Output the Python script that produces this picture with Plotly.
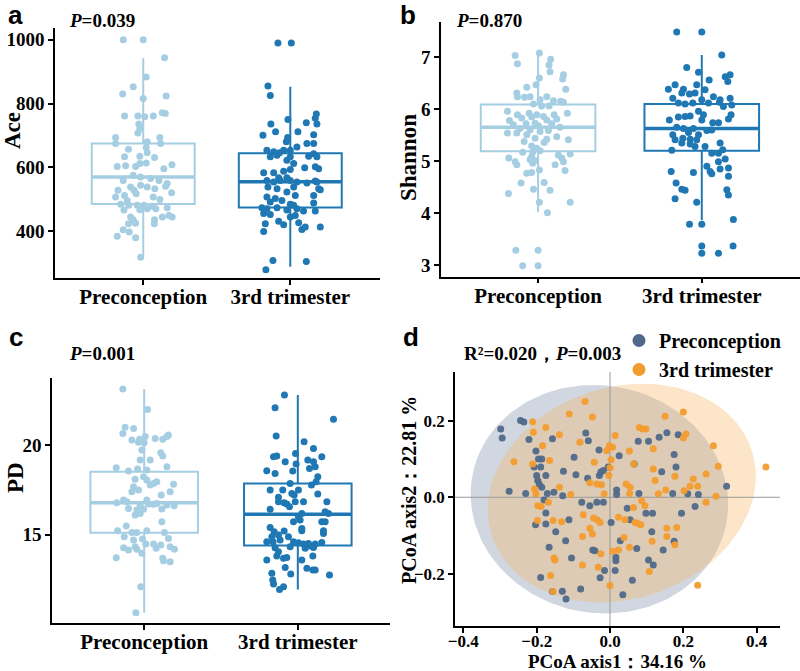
import numpy as np
import plotly.graph_objects as go
from plotly.subplots import make_subplots

# ---------------------------------------------------------------
# data
# ---------------------------------------------------------------
groups = ["Preconception", "3rd trimester"]

# box statistics (q1, median, q3, whisker ends) per group
ace_q1 = [485, 474]
ace_med = [570, 555]
ace_q3 = [675, 644]
ace_lo = [319, 288]
ace_hi = [942, 853]

shannon_q1 = [5.19, 5.20]
shannon_med = [5.65, 5.63]
shannon_q3 = [6.09, 6.10]
shannon_lo = [4.02, 3.87]
shannon_hi = [7.06, 7.04]

pd_q1 = [15.11, 14.40]
pd_med = [16.79, 16.14]
pd_q3 = [18.53, 17.87]
pd_lo = [10.63, 11.94]
pd_hi = [23.15, 22.82]

# sample values
ace_pre = [1000, 1000, 944, 883, 853, 830, 824, 816, 761, 761,
           759, 761, 771, 769, 736, 722, 708, 694, 675, 694,
           675, 680, 657, 662, 633, 635, 646, 631, 603, 605,
           603, 612, 614, 596, 608, 559, 575, 570, 565, 559,
           549, 538, 544, 538, 533, 541, 528, 528, 512, 507,
           517, 520, 496, 507, 499, 484, 481, 481, 481, 478,
           470, 473, 466, 467, 470, 449, 444, 444, 436, 436,
           444, 425, 423, 423, 404, 397, 384, 379, 318]
ace_3rd = [990, 990, 855, 825, 750, 736, 740, 754, 736, 767,
           701, 712, 712, 702, 694, 680, 675, 675, 654, 649,
           646, 654, 654, 664, 633, 638, 633, 635, 643, 633,
           612, 622, 599, 602, 596, 583, 583, 588, 593, 567,
           567, 559, 554, 559, 559, 554, 551, 557, 530, 538,
           533, 538, 533, 554, 523, 507, 502, 496, 512, 512,
           491, 484, 481, 488, 473, 470, 473, 466, 470, 463,
           463, 455, 452, 431, 420, 444, 449, 426, 405, 413,
           413, 423, 399, 308, 305, 279]

shannon_pre = [7.03, 7.08, 6.87, 6.96, 6.85, 6.72, 6.66, 6.58, 6.60, 6.47,
               6.42, 6.38, 6.31, 6.24, 6.23, 6.24, 6.24, 6.18, 6.16, 6.15,
               6.13, 6.10, 6.06, 6.06, 5.96, 5.89, 5.92, 5.89, 5.89, 5.92,
               5.78, 5.83, 5.85, 5.86, 5.79, 5.81, 5.70, 5.72, 5.73, 5.68,
               5.72, 5.65, 5.63, 5.60, 5.57, 5.59, 5.54, 5.54, 5.51, 5.47,
               5.44, 5.42, 5.41, 5.38, 5.36, 5.29, 5.25, 5.20, 5.17, 5.17,
               5.14, 5.12, 5.09, 5.06, 5.06, 5.03, 5.01, 4.99, 4.99, 4.93,
               4.93, 4.96, 4.83, 4.82, 4.77, 4.78, 4.58, 4.59, 4.46, 4.44,
               4.38, 4.21, 4.21, 4.01, 3.29, 3.29, 2.99, 2.99]
shannon_3rd = [7.48, 7.48, 7.04, 6.80, 6.71, 6.56, 6.66, 6.62, 6.53, 6.47,
               6.38, 6.38, 6.47, 6.37, 6.31, 6.29, 6.31, 6.21, 6.24, 6.21,
               6.18, 6.12, 6.10, 6.12, 6.18, 6.12, 6.08, 6.05, 6.13, 5.96,
               5.87, 5.86, 5.85, 5.89, 5.89, 5.81, 5.79, 5.79, 5.74, 5.74,
               5.63, 5.65, 5.63, 5.59, 5.60, 5.55, 5.51, 5.51, 5.44, 5.41,
               5.42, 5.41, 5.35, 5.33, 5.35, 5.28, 5.28, 5.21, 5.15, 5.15,
               5.22, 5.04, 4.99, 4.90, 4.80, 4.87, 4.85, 4.78, 4.80, 4.76,
               4.71, 4.58, 4.46, 4.44, 4.45, 4.35, 4.28, 4.21, 3.79, 3.79,
               3.88, 3.37, 3.23, 3.23, 3.37]

pd_pre = [23.15, 22.01, 21.01, 20.95, 20.67, 20.49, 20.39, 20.49, 20.58, 20.34,
          20.30, 20.34, 20.17, 20.15, 19.74, 19.59, 19.40, 19.18, 19.18, 18.81,
          18.75, 18.56, 18.68, 18.62, 18.25, 18.06, 17.87, 17.97, 17.78, 17.82,
          18.10, 17.69, 17.50, 17.41, 17.41, 17.22, 16.94, 16.85, 16.94, 16.79,
          16.66, 16.72, 16.70, 16.75, 16.66, 16.62, 16.47, 16.38, 16.42, 16.44,
          16.19, 16.10, 15.73, 15.49, 15.22, 15.13, 15.13, 15.22, 15.13, 14.89,
          14.70, 14.76, 14.79, 14.48, 14.48, 14.42, 14.33, 14.27, 14.33, 14.24,
          14.14, 14.18, 13.96, 14.18, 13.71, 13.68, 13.49, 13.54, 12.09, 10.63]
pd_3rd = [22.82, 22.11, 21.46, 20.52, 20.20, 19.83, 19.37, 19.37, 19.40, 19.55,
          19.09, 18.96, 19.18, 19.09, 18.81, 18.58, 18.43, 18.56, 18.71, 18.25,
          17.97, 17.87, 17.78, 17.50, 17.50, 17.50, 17.28, 17.31, 17.22, 17.09,
          16.85, 16.79, 16.72, 16.85, 16.85, 16.57, 16.85, 16.42, 16.19, 16.01,
          15.82, 16.19, 16.29, 15.73, 15.73, 15.41, 15.73, 15.17, 15.21, 15.35,
          15.22, 14.98, 14.89, 14.89, 14.70, 14.61, 14.61, 14.55, 14.48, 14.51,
          14.48, 14.57, 15.07, 15.22, 14.61, 14.33, 14.24, 14.29, 14.37, 14.27,
          14.05, 13.81, 13.68, 13.73, 13.58, 13.81, 13.58, 13.12, 13.02, 13.02,
          12.74, 13.17, 12.80, 12.46, 12.84, 12.24, 11.94, 12.09]

# horizontal jitter of each dot
ace_pre_jit = [-0.136, 0, 0.145, 0.02, -0.068, -0.14, 0.156, 0, -0.127, -0.036,
               0.01, 0.068, 0.13, 0.15, -0.03, -0.023, -0.036, -0.188, -0.188, 0.113,
               0.118, 0.027, -0.1, 0.02, -0.127, -0.023, 0.027, 0.077, -0.177, -0.12,
               -0.052, -0.023, 0.02, 0.14, 0.195, -0.136, -0.068, -0.018, 0.05, 0.107,
               0.163, -0.086, -0.018, 0.027, 0.079, 0.152, -0.172, -0.063, -0.127, -0.188,
               -0.048, 0.193, -0.109, 0.068, 0.113, -0.154, -0.098, -0.041, 0.005, 0.061,
               0.086, 0.163, -0.131, -0.023, 0.027, 0.175, 0.197, -0.086, -0.068, 0.077,
               0.13, -0.052, 0.075, -0.1, -0.136, -0.095, -0.177, -0.052, -0.018]
ace_3rd_jit = [-0.084, 0.007, -0.152, -0.136, -0.016, -0.132, 0.109, 0.17, 0.181, 0.177,
               -0.186, -0.1, 0.052, 0.159, -0.018, -0.027, 0.113, 0.159, -0.159, -0.113,
               -0.073, -0.045, 0, 0.045, -0.136, -0.09, 0, 0.125, 0.159, 0.181,
               0.023, -0.023, 0.098, 0.17, 0.193, -0.181, -0.113, -0.045, 0, -0.079,
               -0.023, -0.159, -0.113, -0.068, 0, 0.045, 0.113, 0.17, 0.204, -0.152,
               -0.09, 0.023, 0.193, 0.181, -0.023, -0.159, -0.102, -0.057, 0.034, 0.159,
               -0.136, 0, 0.023, 0.159, -0.193, -0.159, -0.09, -0.023, 0.045, 0.09,
               0.17, -0.181, -0.136, -0.079, -0.045, 0, 0.034, 0.057, 0.079, 0.102,
               0.204, -0.17, -0.181, -0.118, 0.109, -0.166]
shannon_pre_jit = [-0.14, 0.008, -0.126, 0.077, 0.067, 0.073, 0.155, 0.15, 0.008, -0.012,
                   -0.069, 0.169, -0.13, -0.126, -0.083, -0.049, 0.053, 0.012, 0.094, 0.138,
                   0.155, -0.028, 0.022, 0.067, -0.187, -0.126, -0.055, -0.008, 0.098, 0.179,
                   -0.175, -0.1, -0.039, 0.033, 0.053, 0.114, -0.151, -0.073, -0.018, 0.002,
                   0.083, 0.134, -0.11, -0.049, 0.012, 0.063, -0.187, -0.13, -0.069, 0.114,
                   -0.018, 0.053, 0.185, -0.085, 0.037, -0.039, -0.008, 0.012, -0.033, -0.094,
                   0.196, 0.124, -0.039, -0.179, 0.145, -0.049, -0.018, -0.14, 0.155, -0.13,
                   0.104, -0.033, 0.008, 0.165, -0.069, -0.039, -0.104, 0.037, -0.028, 0.073,
                   -0.181, 0.008, 0.196, 0.057, -0.136, 0, -0.094, 0]
shannon_3rd_jit = [-0.153, 0, 0.122, -0.092, -0.02, 0.045, 0.173, 0.143, 0.159, -0.163,
                   -0.204, -0.112, -0.031, 0.02, -0.122, -0.075, -0.041, -0.177, 0.071, 0.173,
                   0.112, -0.143, -0.102, -0.055, 0, 0.041, 0.183, 0.132, 0.108, -0.02,
                   -0.071, -0.102, -0.143, 0.01, 0.179, 0.163, -0.198, 0, 0.067, 0.102,
                   -0.112, -0.153, -0.051, 0.031, 0.061, -0.081, -0.177, -0.02, -0.116, -0.163,
                   -0.071, -0.031, -0.122, -0.071, 0.112, 0.02, -0.041, -0.183, 0.061, 0.102,
                   0.128, 0.143, 0.102, 0.031, 0.051, 0.163, 0.112, -0.051, -0.187, 0.061,
                   0.163, -0.157, -0.122, -0.102, 0.153, 0.163, -0.163, -0.031, -0.075, 0,
                   0.193, 0, 0, 0.102, 0.191]
pd_pre_jit = [-0.139, 0.022, -0.124, -0.069, -0.139, 0.007, 0.072, 0.148, 0.158, 0.121,
              -0.08, -0.03, -0.037, 0, -0.015, 0.108, 0.121, -0.026, 0.039, 0.148,
              -0.182, -0.102, -0.043, 0.017, -0.004, 0.017, 0.061, 0.082, 0.039, 0.191,
              -0.059, -0.069, -0.037, -0.08, 0.169, 0.111, -0.134, -0.113, 0.017, -0.178,
              -0.026, 0.028, 0.061, 0.082, 0.148, 0.195, -0.102, -0.048, -0.004, 0.115,
              -0.026, -0.059, 0.115, -0.117, -0.173, -0.08, -0.048, 0.017, 0.132, -0.13,
              -0.069, -0.011, 0.158, 0.011, 0.061, 0.108, 0.169, -0.134, -0.059, 0.078,
              -0.102, -0.048, -0.015, 0.197, -0.182, 0.121, 0.169, 0.126, -0.022, -0.054]
pd_3rd_jit = [-0.087, -0.148, 0.232, -0.141, 0.041, 0.102, 0.156, -0.158, -0.137, -0.015,
              -0.082, -0.011, 0.065, 0.102, 0.113, -0.202, -0.148, -0.033, 0.076, 0.13,
              0.119, -0.05, 0.089, -0.18, -0.098, 0.004, 0.13, -0.039, -0.024, -0.126,
              -0.126, -0.089, -0.072, -0.017, 0.037, -0.054, 0.189, -0.18, 0.026, 0.004,
              0.015, 0.2, 0.178, 0.156, 0.178, -0.18, -0.028, -0.154, -0.089, 0.026,
              0.026, -0.126, -0.169, -0.061, -0.115, -0.161, -0.028, 0.004, 0.037, 0.069,
              0.113, 0.156, 0.167, 0.167, -0.202, -0.05, 0.048, 0.102, 0.082, -0.148,
              -0.126, -0.137, -0.093, -0.072, -0.202, 0.098, 0.026, 0.059, 0.098, 0.113,
              0.206, -0.082, -0.046, -0.163, -0.169, -0.158, -0.119, -0.093]

# PCoA scores
pre_pc1 = [-0.298, -0.294, -0.244, -0.235, -0.221, -0.202, -0.195, -0.186, -0.207, -0.189,
           -0.2, -0.175, -0.197, -0.193, -0.186, -0.275, -0.23, -0.171, -0.153, -0.129,
           -0.157, -0.127, -0.098, -0.093, -0.18, -0.175, -0.203, -0.175, -0.148, -0.112,
           -0.121, -0.166, -0.189, -0.157, -0.13, -0.12, -0.08, -0.105, -0.047, -0.041,
           -0.077, -0.061, -0.066, -0.059, -0.03, -0.029, -0.025, -0.018, -0.005, -0.036,
           -0.018, 0.018, 0.018, 0.003, -0.055, -0.015, -0.027, 0.014, 0.016, 0.016,
           0.035, 0.028, 0.025, 0.066, 0.077, 0.105, 0.134, 0.155, 0.186, 0.175,
           0.18, 0.141, 0.079, 0.047, 0.055, 0.098, 0.116, 0.114, 0.073, 0.105,
           0.118, 0.061, 0.145, 0.175, 0.195, 0.171, 0.212, 0.241, 0.232, 0.318]
pre_pc2 = [0.179, 0.155, 0.201, 0.197, 0.151, 0.121, 0.1, 0.1, 0.079, 0.079,
           0.057, 0.057, 0.044, 0.035, 0.026, 0.016, 0.01, 0.01, 0.013, 0.004,
           0.153, 0.068, 0.105, 0.059, -0.007, -0.041, -0.072, -0.07, -0.09, -0.059,
           -0.114, -0.131, -0.21, -0.247, -0.246, -0.266, -0.24, -0.159, -0.138, -0.14,
           -0.013, 0.05, 0.168, 0.148, 0.124, 0.057, 0.066, 0.07, 0.079, -0.013,
           -0.013, 0.019, 0.007, -0.066, -0.022, -0.192, -0.211, -0.192, -0.166, -0.157,
           -0.255, -0.114, 0.109, 0.087, 0.147, 0.147, 0.157, 0.169, 0.164, 0.112,
           0.079, 0.067, 0.01, -0.029, -0.059, -0.042, -0.042, -0.09, -0.134, -0.164,
           -0.177, -0.217, -0.138, -0.115, -0.042, 0.01, 0.009, 0.007, -0.024, 0.029]
tri_pc1 = [-0.068, -0.111, -0.048, -0.211, -0.175, -0.209, -0.138, -0.184, -0.082, 0.014,
           -0.002, 0.007, -0.009, -0.043, -0.262, -0.211, -0.165, -0.206, -0.202, -0.138,
           -0.107, -0.055, -0.036, -0.023, -0.003, -0.016, 0, 0.003, 0.053, -0.197,
           -0.188, -0.168, -0.198, -0.155, -0.132, -0.073, -0.045, -0.035, -0.027, -0.055,
           -0.048, -0.075, 0.023, 0.041, 0.068, 0.075, 0.084, 0.038, 0.053, 0.023,
           0.007, -0.025, -0.153, -0.15, -0.075, -0.032, 0, -0.162, -0.156, 0.065,
           0.044, 0.055, 0.053, 0.086, 0.08, 0.089, 0.098, 0.118, 0.118, 0.177,
           0.2, 0.15, 0.2, 0.207, 0.132, 0.152, 0.218, 0.227, 0.239, 0.202,
           0.262, 0.282, 0.295, 0.289, 0.262, 0.155, 0.155, 0.182, 0.177, 0.115,
           0.107, 0.239, 0.425, 0.123, 0.095, 0.064]
tri_pc2 = [0.251, 0.218, 0.21, 0.198, 0.183, 0.17, 0.164, 0.135, 0.144, 0.162,
           0.135, 0.131, 0.122, 0.092, 0.093, 0.087, 0.096, 0.022, 0.009, 0.026,
           0.007, 0.038, 0.035, 0.033, 0.057, 0.009, 0.077, 0.098, 0.121, -0.022,
           -0.024, -0.013, -0.061, -0.061, -0.064, -0.046, -0.054, -0.059, -0.066, -0.081,
           -0.096, -0.103, -0.052, -0.059, -0.066, -0.068, -0.072, -0.105, -0.131, -0.138,
           -0.141, -0.148, -0.159, -0.164, -0.177, -0.183, -0.231, -0.205, -0.247, 0.087,
           0.035, 0.026, 0.01, -0.009, 0.183, 0.179, 0.179, 0.127, 0.074, 0.055,
           0.223, 0.212, 0.155, 0.166, 0.009, 0.019, 0.029, 0.048, 0.029, 0.017,
           0.061, 0.135, 0.081, 0.003, -0.013, -0.081, -0.103, -0.079, -0.124, -0.115,
           -0.194, -0.23, 0.079, 0.044, -0.022, -0.027]

# confidence ellipses: centre, semi-axes, rotation (deg)
ell_pre = dict(cx=-0.029, cy=-0.005, a=0.352, b=0.298, ang=-8)
ell_tri = dict(cx=0.032, cy=0.011, a=0.372, b=0.278, ang=16)

# ---------------------------------------------------------------
LIGHT = "#A6CEE3"
DARK = "#1F78B4"
PC_BLUE = "#50698A"
PC_ORANGE = "#F39C2E"
SERIF = "Liberation Serif"
SANS = "Liberation Sans"
W, H = 800, 671
BOXW = 0.7


def px(v):
    return v / W


def py(v):
    return 1 - v / H


fig = make_subplots(rows=2, cols=2)


def box_panel(row, col, q1, med, q3, lo, hi, vals, jits):
    colors = [LIGHT, DARK]
    for i in range(2):
        fig.add_trace(go.Box(x=[i], q1=[q1[i]], median=[med[i]], q3=[q3[i]],
                             lowerfence=[lo[i]], upperfence=[hi[i]],
                             width=BOXW, whiskerwidth=0,
                             line=dict(color=colors[i], width=2),
                             fillcolor="rgba(0,0,0,0)", boxpoints=False,
                             hoverinfo="skip", showlegend=False),
                      row=row, col=col)
        fig.add_trace(go.Scatter(x=[i + j for j in jits[i]], y=vals[i], mode="markers",
                                 marker=dict(color=colors[i], size=7),
                                 hoverinfo="skip", showlegend=False),
                      row=row, col=col)
        fig.add_trace(go.Scatter(x=[i - BOXW / 2, i + BOXW / 2], y=[med[i], med[i]],
                                 mode="lines", line=dict(color=colors[i], width=3.5),
                                 hoverinfo="skip", showlegend=False),
                      row=row, col=col)


box_panel(1, 1, ace_q1, ace_med, ace_q3, ace_lo, ace_hi,
          [ace_pre, ace_3rd], [ace_pre_jit, ace_3rd_jit])
box_panel(1, 2, shannon_q1, shannon_med, shannon_q3, shannon_lo, shannon_hi,
          [shannon_pre, shannon_3rd], [shannon_pre_jit, shannon_3rd_jit])
box_panel(2, 1, pd_q1, pd_med, pd_q3, pd_lo, pd_hi,
          [pd_pre, pd_3rd], [pd_pre_jit, pd_3rd_jit])


def ellipse(e, n=200):
    t = np.linspace(0, 2 * np.pi, n)
    th = np.deg2rad(e["ang"])
    x = e["cx"] + e["a"] * np.cos(t) * np.cos(th) - e["b"] * np.sin(t) * np.sin(th)
    y = e["cy"] + e["a"] * np.cos(t) * np.sin(th) + e["b"] * np.sin(t) * np.cos(th)
    return x, y


d_xrange = [-0.4227, 0.4636]
d_yrange = [-0.337, 0.328]

ex, ey = ellipse(ell_pre)
fig.add_trace(go.Scatter(x=ex, y=ey, mode="lines", fill="toself", line=dict(width=0),
                         fillcolor="rgba(120,140,170,0.35)", hoverinfo="skip",
                         showlegend=False), row=2, col=2)
ex, ey = ellipse(ell_tri)
fig.add_trace(go.Scatter(x=ex, y=ey, mode="lines", fill="toself", line=dict(width=0),
                         fillcolor="rgba(245,180,100,0.35)", hoverinfo="skip",
                         showlegend=False), row=2, col=2)
# reference lines through the origin
fig.add_trace(go.Scatter(x=[0, 0], y=d_yrange, mode="lines",
                         line=dict(color="#9A9A9A", width=1), hoverinfo="skip",
                         showlegend=False), row=2, col=2)
fig.add_trace(go.Scatter(x=d_xrange, y=[0, 0], mode="lines",
                         line=dict(color="#9A9A9A", width=1), hoverinfo="skip",
                         showlegend=False), row=2, col=2)
fig.add_trace(go.Scatter(x=pre_pc1, y=pre_pc2, mode="markers",
                         marker=dict(color=PC_BLUE, size=7, opacity=0.95),
                         hoverinfo="skip", showlegend=False), row=2, col=2)
fig.add_trace(go.Scatter(x=tri_pc1, y=tri_pc2, mode="markers",
                         marker=dict(color=PC_ORANGE, size=7, opacity=0.95),
                         hoverinfo="skip", showlegend=False), row=2, col=2)
# legend keys
for name, c in zip(groups, [PC_BLUE, PC_ORANGE]):
    fig.add_trace(go.Scatter(x=[None], y=[None], mode="markers", name=name,
                             marker=dict(color=c, size=13)), row=2, col=2)

# ---------------------------------------------------------------
axis_common = dict(showline=True, linecolor="black", linewidth=1.5, ticks="outside",
                   ticklen=5, tickwidth=1.5, tickcolor="black", showgrid=False,
                   zeroline=False, fixedrange=True, automargin=False)
xaxis_common = dict(axis_common, ticklabelstandoff=-6)
cat_font = dict(family=SERIF, size=21, color="black", weight="bold")
num_font = dict(family=SERIF, size=19, color="black", weight="bold")
pc_font = dict(family=SERIF, size=17, color="black", weight="bold")

fig.update_layout(
    xaxis=dict(domain=[px(55), px(380)], range=[-0.6, 1.61], tickvals=[0, 1],
               ticktext=groups, tickfont=cat_font, **xaxis_common),
    yaxis=dict(domain=[py(278), py(28)], range=[253, 1037],
               tickvals=[400, 600, 800, 1000], tickfont=num_font, **axis_common),
    xaxis2=dict(domain=[px(441), px(800)], range=[-0.593, 1.6], tickvals=[0, 1],
                ticktext=groups, tickfont=cat_font, **xaxis_common),
    yaxis2=dict(domain=[py(276.7), py(21.7)], range=[2.78, 7.68],
                tickvals=[3, 4, 5, 6, 7], tickfont=num_font, **axis_common),
    xaxis3=dict(domain=[px(52), px(390)], range=[-0.6, 1.6], tickvals=[0, 1],
                ticktext=groups, tickfont=cat_font, **xaxis_common),
    yaxis3=dict(domain=[py(623), py(378)], range=[10.06, 23.77],
                tickvals=[15, 20], tickfont=num_font, **axis_common),
    xaxis4=dict(domain=[px(455), px(780)], range=d_xrange,
                tickvals=[-0.4, -0.2, 0, 0.2, 0.4], tickformat=".1f",
                tickfont=pc_font, **xaxis_common),
    yaxis4=dict(domain=[py(626), py(372)], range=d_yrange,
                tickvals=[-0.2, 0, 0.2], tickformat=".1f",
                tickfont=pc_font, **axis_common),
    width=W, height=H, margin=dict(l=0, r=0, t=0, b=0, autoexpand=False),
    plot_bgcolor="white", paper_bgcolor="white",
    legend=dict(x=px(619), y=py(321), xanchor="left", yanchor="top",
                bgcolor="rgba(0,0,0,0)", itemwidth=30, tracegroupgap=0,
                font=dict(family=SERIF, size=20, color="black", weight="bold")),
)

txt = dict(family=SERIF, color="black", weight="bold")
letter = dict(family=SANS, size=26, color="black", weight="bold")
notes = [
    # panel letters
    dict(x=px(15), y=py(15), text="a", font=letter),
    dict(x=px(408), y=py(15), text="b", font=letter),
    dict(x=px(16), y=py(337), text="c", font=letter),
    dict(x=px(411), y=py(337), text="d", font=letter),
    # statistics
    dict(x=px(67), y=py(21), text="<i>P</i>=0.039", xanchor="left", font=dict(size=19, **txt)),
    dict(x=px(454), y=py(21), text="<i>P</i>=0.870", xanchor="left", font=dict(size=19, **txt)),
    dict(x=px(67), y=py(353), text="<i>P</i>=0.001", xanchor="left", font=dict(size=19, **txt)),
    dict(x=px(462), y=py(353), text="R²=0.020，<i>P</i>=0.003", xanchor="left", font=dict(size=19, **txt)),
    # axis titles
    dict(x=px(12), y=py(131), text="Ace", textangle=-90, font=dict(size=23, **txt)),
    dict(x=px(408), y=py(158), text="Shannon", textangle=-90, font=dict(size=23, **txt)),
    dict(x=px(15), y=py(478), text="PD", textangle=-90, font=dict(size=23, **txt)),
    dict(x=px(409), y=py(490), text="PCoA axis2：22.81 %", textangle=-90, font=dict(size=20, **txt)),
    dict(x=px(617), y=py(661), text="PCoA axis1：34.16 %", font=dict(size=19, **txt)),
]
for n in notes:
    n.setdefault("xanchor", "center")
    fig.add_annotation(xref="paper", yref="paper", showarrow=False, yanchor="middle", **n)

# the page's default body margin would shift the figure by 8px
fig.write_html("out.html", config={"displayModeBar": False},
               post_script="document.body.style.margin='0px';")
